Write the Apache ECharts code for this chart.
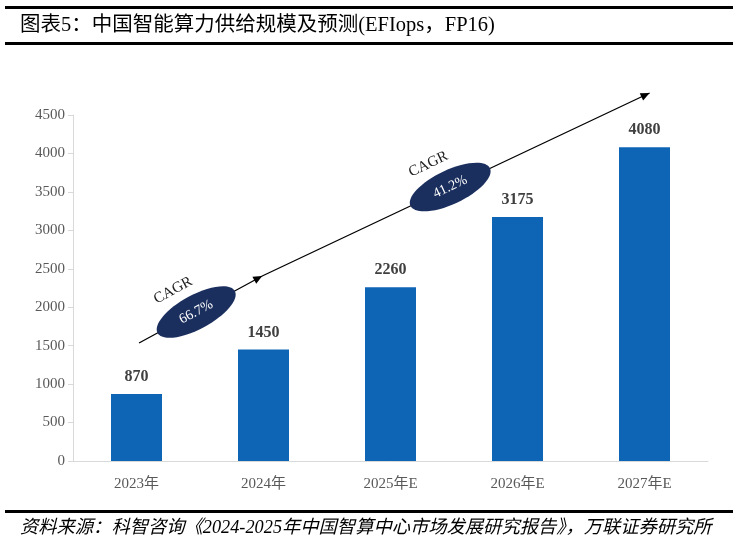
<!DOCTYPE html>
<html>
<head>
<meta charset="utf-8">
<script src="https://cdn.jsdelivr.net/npm/echarts@6/dist/echarts.min.js"></script>
<style>html,body{margin:0;padding:0;background:#fff;}#c{width:738px;height:544px;}</style>
</head>
<body>
<div id="c"></div>
<script>
// ---- data ----
const categories = ['2023年', '2024年', '2025年E', '2026年E', '2027年E'];
const values = [870, 1450, 2260, 3175, 4080];
const yTicks = { min: 0, max: 4500, interval: 500 };
const cagrLabels = ['66.7%', '41.2%'];
const titleText = '图表5：中国智能算力供给规模及预测(EFIops，FP16)';
const sourceText = '资料来源：科智咨询《2024-2025年中国智算中心市场发展研究报告》，万联证券研究所';

// annotation anchors in (category index, value) space
const arrowPts = [[0.02, 1535], [0.99, 2406], [4.04, 4786]];
const ellipseCenters = [[0.47, 1938], [2.47, 3563]];

const SERIF = '"Times New Roman","Liberation Serif","DejaVu Serif","Noto Sans CJK SC",serif';
const chart = echarts.init(document.getElementById('c'), null, { renderer: 'canvas' });

const baseGraphic = [
  { type: 'rect', shape: { x: 5, y: 6, width: 728, height: 3 }, style: { fill: '#000' } },
  { type: 'text', x: 20, y: 26, style: { text: titleText, font: '20.5px ' + SERIF, fill: '#000', textVerticalAlign: 'middle' } },
  { type: 'rect', shape: { x: 5, y: 42, width: 728, height: 3 }, style: { fill: '#000' } },
  { type: 'rect', shape: { x: 5, y: 510, width: 728, height: 3 }, style: { fill: '#000' } },
  { type: 'text', x: 20, y: 528, style: { text: sourceText, font: 'italic 18.3px ' + SERIF, fill: '#000', textVerticalAlign: 'middle' } }
];

chart.setOption({
  animation: false,
  backgroundColor: '#fff',
  grid: { left: 73, right: 30, top: 115, bottom: 83, containLabel: false },
  xAxis: {
    type: 'category',
    data: categories,
    axisLine: { lineStyle: { color: '#d9d9d9', width: 1 } },
    axisTick: { show: false },
    axisLabel: { color: '#595959', fontSize: 15, fontFamily: SERIF, margin: 16 }
  },
  yAxis: {
    type: 'value',
    min: yTicks.min, max: yTicks.max, interval: yTicks.interval,
    axisLine: { show: true, lineStyle: { color: '#d9d9d9', width: 1 } },
    axisTick: { show: true, length: 5, lineStyle: { color: '#d9d9d9' } },
    splitLine: { show: false },
    axisLabel: { color: '#595959', fontSize: 15, fontFamily: SERIF, margin: 8, formatter: (v) => String(v) }
  },
  series: [{
    type: 'bar',
    data: values,
    barWidth: 51,
    itemStyle: { color: '#0e65b6' },
    label: { show: true, position: 'top', distance: 9, color: '#404040', fontSize: 16, fontWeight: 'bold', fontFamily: SERIF }
  }],
  graphic: baseGraphic
});

// annotations positioned through the axes
const x0 = chart.convertToPixel({ xAxisIndex: 0 }, 0);
const step = chart.convertToPixel({ xAxisIndex: 0 }, 1) - x0;
const toPx = (p) => [x0 + p[0] * step, chart.convertToPixel({ yAxisIndex: 0 }, p[1])];

const pts = arrowPts.map(toPx);
const extra = [];
extra.push({ type: 'polyline', shape: { points: pts }, style: { stroke: '#000', lineWidth: 1.3, fill: null }, z: 5 });
function arrowHead(tip, from) {
  const ang = Math.atan2(tip[1] - from[1], tip[0] - from[0]);
  const L = 9, W = 4;
  const bx = tip[0] - L * Math.cos(ang), by = tip[1] - L * Math.sin(ang);
  const nx = -Math.sin(ang) * W, ny = Math.cos(ang) * W;
  return { type: 'polygon', shape: { points: [tip, [bx + nx, by + ny], [bx - nx, by - ny]] }, style: { fill: '#000' }, z: 6 };
}
extra.push(arrowHead(pts[1], pts[0]));
extra.push(arrowHead(pts[2], pts[1]));

ellipseCenters.forEach((c, i) => {
  const p = toPx(c);
  const a = i === 0 ? pts[0] : pts[1];
  const b = i === 0 ? pts[1] : pts[2];
  const rot = -Math.atan2(b[1] - a[1], b[0] - a[0]);
  extra.push({
    type: 'group', x: p[0], y: p[1], rotation: rot, z: 10,
    children: [
      { type: 'ellipse', shape: { cx: 0, cy: 0, rx: 44, ry: 17 }, style: { fill: '#1b2f5e' }, z: 10 },
      { type: 'text', x: 0, y: 0, style: { text: cagrLabels[i], font: '14px ' + SERIF, fill: '#fff', textAlign: 'center', textVerticalAlign: 'middle' }, z: 11 },
      { type: 'text', x: -10, y: -30, style: { text: 'CAGR', font: '15px ' + SERIF, fill: '#222', textAlign: 'center', textVerticalAlign: 'middle' }, z: 11 }
    ]
  });
});

chart.setOption({ graphic: baseGraphic.concat(extra) });
</script>
</body>
</html>
